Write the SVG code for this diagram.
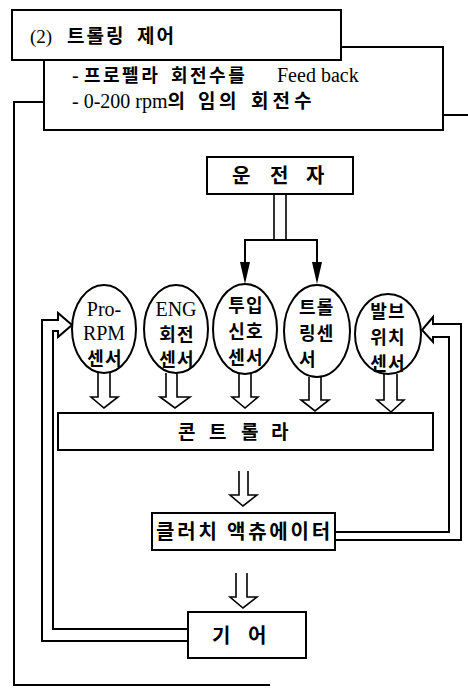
<svg xmlns="http://www.w3.org/2000/svg" width="468" height="689" viewBox="0 0 468 689">
<style>
.box{fill:#fff;stroke:#000;stroke-width:2}
.ln{fill:none;stroke:#000;stroke-width:2}
.thin{fill:none;stroke:#000;stroke-width:1.6}
.head{fill:#000;stroke:none}
.kr{font-family:"Noto Sans CJK KR","Noto Sans",sans-serif;font-weight:bold;font-size:18px;fill:#000}
.el{letter-spacing:1.2px}
.lat{font-family:"Liberation Serif","Noto Sans CJK KR",serif;font-size:20px;fill:#000}
.hd{font-family:"Liberation Serif","Noto Sans CJK KR",serif;font-size:20px;fill:#000}
.hk{font-family:"Noto Sans CJK KR","Noto Sans",sans-serif;font-weight:bold}
</style>
<rect width="468" height="689" fill="#fff"/>

<g id="connectors">
<path class="ln" d="M44,102 H14 V685 H270"/>
<path class="ln" d="M443,115 H468"/>
<path class="thin" d="M274,194 V240 M286,194 V240"/>
<path class="ln" d="M245,264 V240 H317 V264" stroke-width="2.5"/>
<path class="head" d="M240,262 H250 L245,284 Z"/>
<path class="head" d="M312,262 H322 L317,284 Z"/>
<path class="thin" d="M98,373 V397 H91 L104,408 L118,397 H110 V373"/>
<path class="thin" d="M166,373 V397 H160 L175,408 L190,397 H177 V373"/>
<path class="thin" d="M239,374 V397 H232 L245,408 L258,397 H251 V374"/>
<path class="thin" d="M309,377 V400 H301 L315,411 L329,400 H321 V377"/>
<path class="thin" d="M384,374 V400 H377 L391,412 L404,400 H397 V374"/>
<path class="thin" d="M239,471 V495 H230 L243,506 L257,495 H248 V471"/>
<path class="thin" d="M236,573 V597 H230 L243,608 L257,597 H247 V573"/>
<path class="ln" d="M188,641 H42 V320 H58 V313 L72,325 L58,337 V331 H53 V629 H188"/>
<path class="ln" d="M335,540 H461 V324 H433 V317 L422,330 L433,342 V337 H449 V532 H335"/>
</g>

<g id="header-box">
<rect class="box" x="44" y="47" width="399" height="83"/>
<text class="hd" y="82"><tspan x="72">-</tspan><tspan class="hk" x="84" style="font-size:18px;letter-spacing:2.5px">프로펠라</tspan><tspan class="hk" x="171" style="font-size:18px;letter-spacing:2.5px">회전수를</tspan><tspan x="277">Feed back</tspan></text>
<text class="hd" y="108"><tspan x="72">- 0-200 rpm</tspan><tspan class="hk" style="font-size:19px">의</tspan><tspan class="hk" x="198" style="font-size:19px;letter-spacing:3.5px">임의</tspan><tspan class="hk" x="251" style="font-size:19px;letter-spacing:4px">회전수</tspan></text>
</g>

<g id="title">
<rect class="box" x="12" y="10" width="329" height="50"/>
<text class="hd" y="43" style="font-size:19px"><tspan x="30">(2)</tspan><tspan class="hk" x="67" style="font-size:19px;letter-spacing:2px">트롤링</tspan><tspan class="hk" x="137" style="font-size:19px;letter-spacing:2px">제어</tspan></text>
</g>

<g id="driver">
<rect class="box" x="207" y="157" width="146" height="37"/>
<text class="kr" y="183" style="font-size:20px" x="232 251 270 289 306">운 전 자</text>
</g>

<g id="sensor-pro-rpm">
<ellipse class="box" cx="104" cy="329" rx="32" ry="44"/>
<text class="lat" x="104" y="316" text-anchor="middle">Pro-</text>
<text class="lat" x="104" y="340" text-anchor="middle">RPM</text>
<text class="kr el" x="105" y="365" text-anchor="middle">센서</text>
</g>

<g id="sensor-eng">
<ellipse class="box" cx="176" cy="329" rx="32" ry="44"/>
<text class="lat" x="176" y="316" text-anchor="middle">ENG</text>
<text class="kr el" x="177" y="341" text-anchor="middle">회전</text>
<text class="kr el" x="177" y="366" text-anchor="middle">센서</text>
</g>

<g id="sensor-input">
<ellipse class="box" cx="245" cy="329" rx="32" ry="45"/>
<text class="kr el" x="246" y="312" text-anchor="middle">투입</text>
<text class="kr el" x="246" y="338" text-anchor="middle">신호</text>
<text class="kr el" x="246" y="364" text-anchor="middle">센서</text>
</g>

<g id="sensor-trolling">
<ellipse class="box" cx="317" cy="331" rx="33" ry="46"/>
<text class="kr el" x="299" y="314">트롤</text>
<text class="kr el" x="299" y="340">링센</text>
<text class="kr el" x="299" y="366">서</text>
</g>

<g id="sensor-valve">
<ellipse class="box" cx="388" cy="334" rx="33" ry="40"/>
<text class="kr el" x="388" y="318" text-anchor="middle">발브</text>
<text class="kr el" x="388" y="344" text-anchor="middle">위치</text>
<text class="kr el" x="388" y="370" text-anchor="middle">센서</text>
</g>

<g id="controller">
<rect class="box" x="58" y="413" width="375" height="37"/>
<text class="kr" y="439" style="font-size:19px" x="178 196 209 227 241 259 271">콘 트 롤 라</text>
</g>

<g id="clutch-actuator">
<rect class="box" x="152" y="513" width="183" height="37"/>
<text class="kr" x="156" y="539" style="font-size:20px;letter-spacing:2.8px">클러치 액츄에이터</text>
</g>

<g id="gear">
<rect class="box" x="188" y="612" width="118" height="46"/>
<text class="kr" y="643" style="font-size:20px" x="212 232 248">기 어</text>
</g>
</svg>
